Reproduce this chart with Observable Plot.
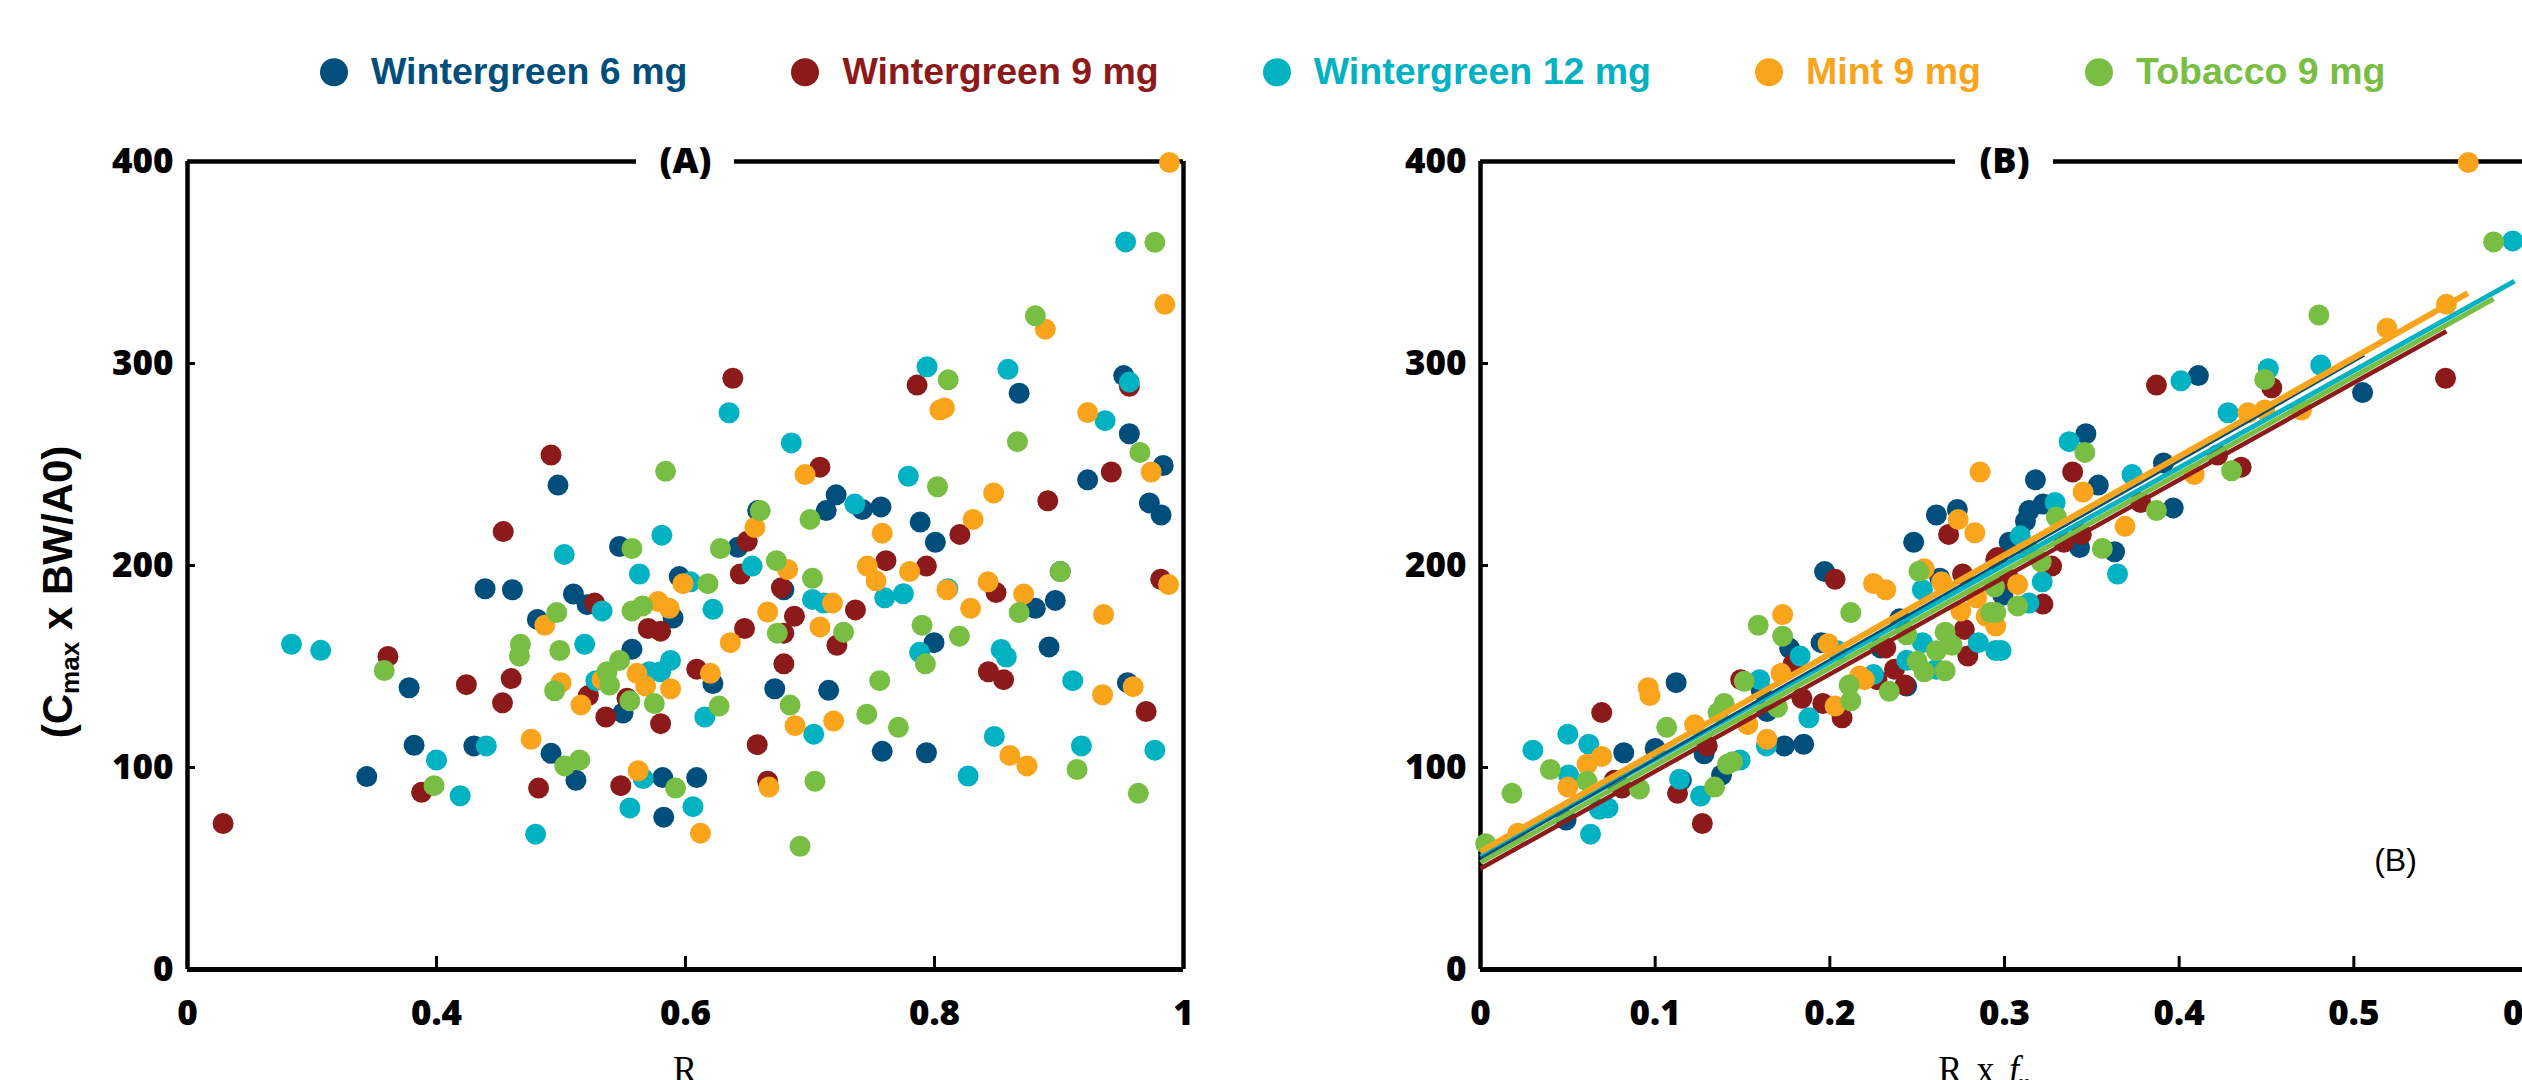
<!DOCTYPE html>
<html>
<head>
<meta charset="utf-8">
<script src="https://cdn.jsdelivr.net/npm/d3@7"></script>
<script src="https://cdn.jsdelivr.net/npm/@observablehq/plot@0.6"></script>
<style>
html, body { margin: 0; padding: 0; background: #fff; }
body { width: 2522px; height: 1080px; overflow: hidden; position: relative; }
#panelA { position: absolute; left: 0; top: 0; width: 1300px; }
#panelB { position: absolute; left: 1300px; top: 0; width: 1250px; }
#panelA svg, #panelB svg { max-width: none !important; display: block; }
#legend { position: absolute; left: 320px; top: 72px; transform: translateY(-50%); display: flex; align-items: center;
  font-family: "Liberation Sans", Arial, sans-serif; font-weight: 700; font-size: 37.5px; white-space: nowrap; line-height: 1; }
.item { display: flex; align-items: center; margin-right: 104px; }
.dot { width: 28px; height: 28px; border-radius: 50%; margin-right: 23px; }
#ytitle { position: absolute; left: 60px; top: 592px; transform: translate(-50%, -50%) rotate(-90deg);
  font-family: "Liberation Sans", Arial, sans-serif; font-weight: 700; font-size: 42px; white-space: nowrap; line-height: 1; }
#ytitle sub { font-size: 0.62em; vertical-align: -0.3em; }
.xtitle { position: absolute; top: 1050px; transform: translateX(-50%) scaleX(0.9);
  font-family: "Liberation Serif", serif; font-size: 40px; line-height: 1; white-space: nowrap; word-spacing: 0.15em; }
.xtitle sub { font-size: 0.6em; vertical-align: -0.3em; }
</style>
</head>
<body>
<div id="panelA"></div>
<div id="panelB"></div>
<div id="legend"></div>
<div id="ytitle">(C<sub>max</sub> x BW/A0)</div>
<div class="xtitle" style="left:685px">R</div>
<div class="xtitle" style="left:1984px">R x <i>f</i><sub>u</sub></div>
<script>
// ---------- categories & colours ----------
const series = ["Wintergreen 6 mg", "Wintergreen 9 mg", "Wintergreen 12 mg", "Mint 9 mg", "Tobacco 9 mg"];
const colors = ["#004e7c", "#8c1a1a", "#00b2c2", "#f9a41b", "#78be43"];

// ---------- ticks ----------
const yTicks = [0, 100, 200, 300, 400];
const yInnerTicks = [100, 200, 300];
const xTicksA = [0.2, 0.4, 0.6, 0.8, 1.0];
const xLabelsA = ["0", "0.4", "0.6", "0.8", "1"];
const xInnerA = [0.4, 0.6, 0.8];
const xTicksB = [0, 0.1, 0.2, 0.3, 0.4, 0.5, 0.6];
const xLabelsB = ["0", "0.1", "0.2", "0.3", "0.4", "0.5", "0.6"];
const xInnerB = [0.1, 0.2, 0.3, 0.4, 0.5];

// ---------- panel A: R vs Cmax x BW/A0 ----------
const aWG6 = [[0.344,95.5],[0.378,139.5],[0.382,111],[0.430,110.7],[0.439,188.5],[0.461,188],[0.492,107],[0.512,93.7],[0.4976,239.8],[0.481,173.3],[0.510,185.9],[0.521,180.6],[0.557,158.6],[0.5498,127],[0.547,209.4],[0.590,174],[0.595,194.5],[0.622,141.6],[0.5817,95],[0.609,95],[0.5825,75.4],[0.658,227.2],[0.642,209],[0.679,188],[0.6717,139],[0.715,138.2],[0.721,235],[0.713,227.2],[0.742,227.7],[0.757,229],[0.7885,221.5],[0.8007,211.5],[0.868,285.3],[0.952,294],[0.9565,265.2],[0.9837,249.5],[0.923,242.4],[0.9726,231],[0.982,225],[0.881,178.8],[0.897,182.7],[0.901,197],[0.7996,161.8],[0.892,159.7],[0.955,142],[0.758,108],[0.7935,107.3]];
const aWG9 = [[0.2286,72.3],[0.361,155],[0.388,87.7],[0.424,141],[0.4536,216.8],[0.460,144],[0.453,132],[0.482,89.8],[0.492,254.7],[0.527,181.4],[0.522,135.6],[0.536,125],[0.553,134.3],[0.580,121.7],[0.570,168.8],[0.580,167.5],[0.548,91],[0.609,148.7],[0.638,292.7],[0.708,248.7],[0.6496,212],[0.644,195.8],[0.677,189],[0.6875,174.9],[0.7365,178],[0.6474,168.8],[0.679,166.5],[0.7216,160.5],[0.679,151.3],[0.6576,111.3],[0.666,93.2],[0.761,202.4],[0.7935,199.7],[0.8204,215.4],[0.786,289.3],[0.9565,288.7],[0.942,246.3],[0.891,232],[0.8494,186.6],[0.8433,147.4],[0.8555,143.5],[0.970,127.7],[0.9817,193.2]];
const aWG12 = [[0.2835,161],[0.307,158],[0.400,103.7],[0.419,86],[0.440,110.7],[0.4796,67],[0.5026,205.5],[0.533,177.5],[0.519,161],[0.528,143],[0.571,147.4],[0.580,147.4],[0.588,153],[0.563,195.8],[0.581,215],[0.604,191.9],[0.622,178.3],[0.635,275.6],[0.6155,125],[0.566,94.5],[0.5553,80],[0.606,80.6],[0.685,260.7],[0.736,230.4],[0.6535,199.7],[0.702,183.2],[0.711,181.4],[0.703,116.5],[0.760,184],[0.775,186],[0.779,244.2],[0.794,298.4],[0.859,297.1],[0.9535,360.2],[0.9565,290.8],[0.937,271.7],[0.8107,188.5],[0.788,157],[0.8535,158.4],[0.8577,154.7],[0.911,143],[0.977,108.6],[0.918,110.7],[0.848,115.4],[0.827,95.8]];
const aMint = [[0.476,114],[0.487,170.4],[0.5,142],[0.516,131],[0.533,143.5],[0.561,146.6],[0.568,140.3],[0.588,139],[0.587,178.8],[0.578,182.2],[0.598,191],[0.620,146.6],[0.562,98.4],[0.612,67.5],[0.636,161.8],[0.696,245],[0.6557,218.8],[0.682,198],[0.718,181.4],[0.666,177],[0.708,169.6],[0.688,120.7],[0.719,123],[0.667,90.3],[0.758,216],[0.746,199.7],[0.753,192.4],[0.780,197],[0.831,222.8],[0.8475,235.9],[0.8043,277],[0.808,278],[0.889,317],[0.9887,399.5],[0.985,329.3],[0.923,275.7],[0.974,246.3],[0.810,188],[0.843,191.9],[0.8716,185.9],[0.829,178.8],[0.9358,175.7],[0.935,136],[0.9596,140],[0.988,190.6],[0.8605,106],[0.8743,100.8]];
const aTob = [[0.358,148],[0.398,91],[0.503,100.8],[0.515,103.7],[0.4966,176.7],[0.4674,161],[0.4666,155.2],[0.499,157.9],[0.4949,138],[0.537,147.4],[0.539,140.8],[0.547,153],[0.5553,133],[0.575,131.7],[0.5655,180],[0.557,177.5],[0.557,208.4],[0.584,246.6],[0.618,191],[0.628,208.4],[0.627,130.4],[0.592,89.8],[0.700,222.8],[0.660,227.2],[0.673,202.4],[0.702,193.7],[0.727,167],[0.6737,166.5],[0.684,130.9],[0.704,93.2],[0.692,61],[0.8024,239],[0.811,291.9],[0.8666,261.3],[0.881,323.6],[0.977,360],[0.965,256],[0.868,176.7],[0.901,197],[0.790,170.4],[0.7927,151.3],[0.820,165],[0.9145,99],[0.9637,87.2],[0.7456,126.4],[0.756,143],[0.771,119.9]];

// ---------- panel B: R x fu vs Cmax x BW/A0 ----------
const bWG6 = [[0.049,74],[0.082,107.3],[0.112,142],[0.100,109.4],[0.128,106.8],[0.115,93.7],[0.138,96.3],[0.1607,138.2],[0.164,127.7],[0.174,110.7],[0.185,111.5],[0.177,159],[0.197,197],[0.195,161.8],[0.244,140.3],[0.229,159.2],[0.240,173.6],[0.248,211.5],[0.261,225],[0.273,227.7],[0.263,193.7],[0.505,285.6],[0.411,294],[0.391,250.8],[0.3966,228.5],[0.3537,239.8],[0.3466,265.2],[0.3177,242.4],[0.314,227.2],[0.322,230.4],[0.312,222],[0.3027,211.5],[0.343,208.9],[0.363,206.8],[0.299,185.3]];
const bWG9 = [[0.0694,127.2],[0.0766,93.7],[0.081,89.8],[0.1298,110.7],[0.1128,87.2],[0.127,72.3],[0.149,143.5],[0.179,151.3],[0.184,134.3],[0.203,193.2],[0.196,131.7],[0.207,124.6],[0.227,143.5],[0.237,148.7],[0.243,140.8],[0.232,159.2],[0.268,215.4],[0.276,195.8],[0.295,203],[0.277,168.3],[0.279,155.2],[0.5525,292.7],[0.453,288],[0.422,254.7],[0.4355,248.7],[0.387,289.3],[0.378,231.2],[0.339,246.3],[0.296,204],[0.327,199.7],[0.334,211.5],[0.344,215.4],[0.322,180.9],[0.3027,193.2]];
const bWG12 = [[0.030,108.6],[0.050,116.5],[0.062,111.5],[0.0504,96.3],[0.063,67],[0.068,79.3],[0.073,80],[0.114,94.2],[0.126,85.9],[0.1486,103.7],[0.1598,143.5],[0.1637,110.7],[0.183,155.2],[0.188,124.6],[0.204,157.9],[0.225,146],[0.244,153.1],[0.253,188],[0.253,161.8],[0.261,148.7],[0.285,161.8],[0.295,157.9],[0.591,360.7],[0.481,299.2],[0.451,297.4],[0.428,275.6],[0.401,291.4],[0.373,245],[0.337,261.3],[0.329,231.2],[0.309,214.7],[0.3647,195.8],[0.3216,191.9],[0.314,181.4],[0.298,157.9]];
const bMint = [[0.0214,67.5],[0.061,101.6],[0.0694,105.5],[0.050,90.3],[0.096,139.5],[0.097,135.6],[0.1226,121.2],[0.153,121.2],[0.164,114],[0.173,175.7],[0.172,146.6],[0.199,161.3],[0.203,130.4],[0.217,145.3],[0.2198,143.5],[0.225,191.1],[0.232,188],[0.254,198.4],[0.2735,222.8],[0.283,216.2],[0.286,246.3],[0.264,191.9],[0.275,177.5],[0.2895,174.9],[0.284,184],[0.5655,399.5],[0.553,329.3],[0.519,317.5],[0.4394,275.6],[0.449,277],[0.470,277],[0.4086,245],[0.369,219.4],[0.345,236.4],[0.3075,190.6],[0.295,170]];
const bTob = [[0.003,62.3],[0.018,87.2],[0.040,99],[0.061,93.2],[0.091,89.3],[0.1066,119.9],[0.134,90.3],[0.1414,101.6],[0.1443,102.9],[0.136,127.2],[0.1395,131.7],[0.151,142.7],[0.170,129.8],[0.159,170.4],[0.173,165],[0.212,176.7],[0.211,140.8],[0.212,133],[0.234,137.7],[0.244,165.7],[0.251,197.1],[0.250,152.6],[0.254,147.4],[0.261,157.8],[0.266,167],[0.270,160.5],[0.266,147.9],[0.292,176.7],[0.2943,189.3],[0.580,360.2],[0.480,324],[0.449,292.1],[0.430,246.9],[0.387,227.2],[0.346,256],[0.3297,224],[0.314,207.6],[0.321,201.8],[0.356,208.4],[0.3075,180],[0.295,176.7]];

// ---------- panel B regression fits ----------
const fitIntercept = [55, 50, 56, 58.4, 53];
const fitSlope = [492, 481, 481, 489, 481];
const fitXmax = [0.506, 0.553, 0.592, 0.5653, 0.580];
const fitWidth = [2.5, 4.5, 5, 6, 5];
const fitOrder = [1, 4, 2, 0, 3];

// ---------- build tables ----------
const toRows = (lists) => lists.flatMap((arr, i) => arr.map(([x, y]) => ({x, y, s: series[i]})));
const rowsA = toRows([aWG6, aWG9, aWG12, aMint, aTob]);
const rowsB = toRows([bWG6, bWG9, bWG12, bMint, bTob]);
const fitRows = series.flatMap((s, i) => [0, fitXmax[i]].map(x => ({x, y: fitIntercept[i] + fitSlope[i] * x, s})));

const H = 1080, mT = 161, mB = 111;
const tickFont = {fontFamily: "'Open Sans', sans-serif", fontWeight: 800, fontSize: 35};

function panel({xDomain, xTicks, xLabels, xInner, width, mL, mR, title, extra = []}) {
  const plotW = width - mL - mR, plotH = H - mT - mB;
  const mid = (xDomain[0] + xDomain[1]) / 2;
  return Plot.plot({
    width, height: H, marginLeft: mL, marginRight: mR, marginTop: mT, marginBottom: mB,
    x: {domain: xDomain},
    y: {domain: [0, 400]},
    color: {domain: series, range: colors},
    style: {fontFamily: "'Open Sans', sans-serif", fontSize: "35px", color: "#000", background: "transparent", overflow: "visible", maxWidth: "none"},
    marks: [
      Plot.ruleX([xDomain[0]], {strokeWidth: 4.5}),
      Plot.ruleX([xDomain[1]], {strokeWidth: 4.5}),
      Plot.ruleY([0], {strokeWidth: 5}),
      Plot.ruleY([400], {x1: () => xDomain[0], x2: () => mid, insetRight: 49, strokeWidth: 4.5}),
      Plot.ruleY([400], {x1: () => mid, x2: () => xDomain[1], insetLeft: 49, strokeWidth: 4.5}),
      Plot.tickY(yInnerTicks, {y: d => d, insetRight: plotW - 8, strokeWidth: 3}),
      Plot.tickX(xInner, {x: d => d, insetTop: plotH - 13, strokeWidth: 3}),
      Plot.axisY(yTicks, {anchor: "left", tickSize: 0, tickPadding: 14, label: null, ...tickFont}),
      Plot.axisX(xTicks, {anchor: "bottom", tickSize: 0, tickPadding: 31, label: null,
        tickFormat: d => xLabels[xTicks.indexOf(d)], ...tickFont}),
      Plot.text([title], {frameAnchor: "top", text: d => d, lineAnchor: "middle", fill: "#000",
        fontFamily: "'Open Sans', sans-serif", fontWeight: 800, fontSize: 36}),
      ...extra
    ]
  });
}

const dotsA = Plot.dot(rowsA, {x: "x", y: "y", fill: "s", r: 10.5});
const dotsB = Plot.dot(rowsB, {x: "x", y: "y", fill: "s", r: 10.5});
const fitLines = fitOrder.map(i => Plot.line(fitRows.filter(d => d.s === series[i]),
  {x: "x", y: "y", stroke: "s", strokeWidth: fitWidth[i], strokeLinecap: "butt"}));

document.getElementById("panelA").append(panel({
  xDomain: [0.2, 1.0], xTicks: xTicksA, xLabels: xLabelsA, xInner: xInnerA,
  width: 1300, mL: 187, mR: 117, title: "(A)", extra: [dotsA]
}));

document.getElementById("panelB").append(panel({
  xDomain: [0, 0.6], xTicks: xTicksB, xLabels: xLabelsB, xInner: xInnerB,
  width: 1250, mL: 180, mR: 22, title: "(B)",
  extra: [dotsB, ...fitLines,
    Plot.text(["(B)"], {frameAnchor: "bottom-right", text: d => d, dx: -133, dy: -109,
      textAnchor: "middle", lineAnchor: "middle", fill: "#000",
      fontFamily: "'Liberation Sans', Arial, sans-serif", fontWeight: 400, fontSize: 32})]
}));

// ---------- legend ----------
const legend = document.getElementById("legend");
series.forEach((s, i) => {
  const item = document.createElement("div");
  item.className = "item";
  const dot = document.createElement("span");
  dot.className = "dot";
  dot.style.background = colors[i];
  const label = document.createElement("span");
  label.textContent = s;
  label.style.color = colors[i];
  item.append(dot, label);
  legend.append(item);
});
</script>
</body>
</html>
